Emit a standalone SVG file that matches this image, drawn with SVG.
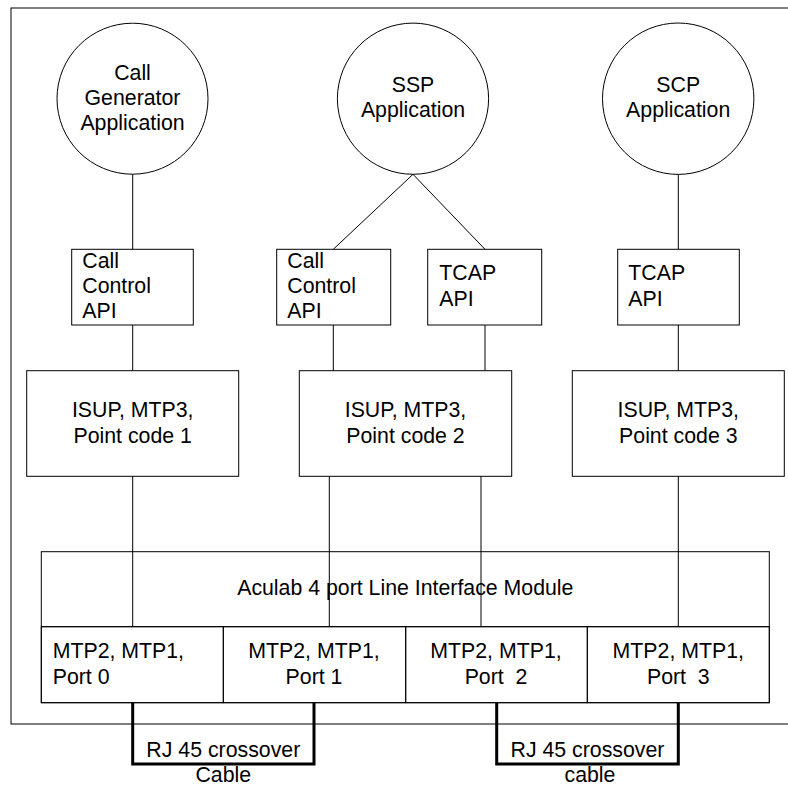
<svg xmlns="http://www.w3.org/2000/svg" width="788" height="787" viewBox="0 0 788 787">
<style>
.s{fill:none;stroke:#000;stroke-width:1}
.n{fill:#fff;stroke:#000;stroke-width:1}
.t{font-family:"Liberation Sans",Arial,sans-serif;font-size:21.3px;fill:#000}
.c{text-anchor:middle}
.k{fill:none;stroke:#000;stroke-width:3}
</style>
<rect id="frame" class="s" x="11" y="8" width="790" height="716"/>
<g id="callgen">
<circle class="n" cx="132.5" cy="98.7" r="75.5"/>
<text class="t c" x="132.5" y="80">Call</text>
<text class="t c" x="132.5" y="105">Generator</text>
<text class="t c" x="132.5" y="130">Application</text>
</g>
<g id="ssp">
<circle class="n" cx="413" cy="98.7" r="75.6"/>
<text class="t c" x="413" y="91.7">SSP</text>
<text class="t c" x="413" y="116.7">Application</text>
</g>
<g id="scp">
<circle class="n" cx="678.2" cy="98.7" r="75.7"/>
<text class="t c" x="678.2" y="91.7">SCP</text>
<text class="t c" x="678.2" y="116.7">Application</text>
</g>
<g id="cc1">
<rect class="n" x="71.7" y="249.3" width="121.6" height="75.7"/>
<text class="t" x="82.3" y="268.3">Call</text>
<text class="t" x="82.3" y="293.3">Control</text>
<text class="t" x="82.3" y="318.3">API</text>
</g>
<g id="cc2">
<rect class="n" x="276.7" y="249.3" width="114" height="75.7"/>
<text class="t" x="287.3" y="268.3">Call</text>
<text class="t" x="287.3" y="293.3">Control</text>
<text class="t" x="287.3" y="318.3">API</text>
</g>
<g id="tcap1">
<rect class="n" x="427.7" y="249.3" width="114" height="75.7"/>
<text class="t" x="439.3" y="280">TCAP</text>
<text class="t" x="439.3" y="306">API</text>
</g>
<g id="tcap2">
<rect class="n" x="617.7" y="249.3" width="121.6" height="75.7"/>
<text class="t" x="628.3" y="280">TCAP</text>
<text class="t" x="628.3" y="306">API</text>
</g>
<g id="isup1">
<rect class="n" x="26.7" y="370.7" width="212" height="105.6"/>
<text class="t c" x="132.7" y="417.3">ISUP, MTP3,</text>
<text class="t c" x="132.7" y="442.7">Point code 1</text>
</g>
<g id="isup2">
<rect class="n" x="299.3" y="370.7" width="212.4" height="105.6"/>
<text class="t c" x="405.5" y="417.3">ISUP, MTP3,</text>
<text class="t c" x="405.5" y="442.7">Point code 2</text>
</g>
<g id="isup3">
<rect class="n" x="572.3" y="370.7" width="212" height="105.6"/>
<text class="t c" x="678.3" y="417.3">ISUP, MTP3,</text>
<text class="t c" x="678.3" y="442.7">Point code 3</text>
</g>
<g id="lim">
<rect class="n" x="41.3" y="551.7" width="728" height="151"/>
<line class="s" x1="41.3" y1="626.7" x2="769.3" y2="626.7"/>
<text class="t c" x="405.3" y="595">Aculab 4 port Line Interface Module</text>
</g>
<g id="port0">
<rect class="s" x="41.3" y="626.7" width="182" height="76"/>
<text class="t" x="52.7" y="658.3">MTP2, MTP1,</text>
<text class="t" x="52.7" y="684">Port 0</text>
</g>
<g id="port1">
<rect class="s" x="223.3" y="626.7" width="182.4" height="76"/>
<text class="t c" x="314" y="658.3">MTP2, MTP1,</text>
<text class="t c" x="314" y="684">Port 1</text>
</g>
<g id="port2">
<rect class="s" x="405.7" y="626.7" width="181.6" height="76"/>
<text class="t c" x="496" y="658.3" xml:space="preserve">MTP2, MTP1,</text>
<text class="t c" x="496" y="684" xml:space="preserve">Port  2</text>
</g>
<g id="port3">
<rect class="s" x="587.3" y="626.7" width="182" height="76"/>
<text class="t c" x="678.3" y="658.3" xml:space="preserve">MTP2, MTP1,</text>
<text class="t c" x="678.3" y="684" xml:space="preserve">Port  3</text>
</g>
<g id="connectors">
<line class="s" x1="132.7" y1="174.2" x2="132.7" y2="249.3"/>
<line class="s" x1="413" y1="174.3" x2="333.3" y2="249.3"/>
<line class="s" x1="413" y1="174.3" x2="485" y2="249.3"/>
<line class="s" x1="678.3" y1="174.4" x2="678.3" y2="249.3"/>
<line class="s" x1="132.7" y1="325" x2="132.7" y2="370.7"/>
<line class="s" x1="333.3" y1="325" x2="333.3" y2="370.7"/>
<line class="s" x1="485" y1="325" x2="485" y2="370.7"/>
<line class="s" x1="678.3" y1="325" x2="678.3" y2="370.7"/>
<line class="s" x1="132.7" y1="476.3" x2="132.7" y2="626.7"/>
<line class="s" x1="329.3" y1="476.3" x2="329.3" y2="626.7"/>
<line class="s" x1="481" y1="476.3" x2="481" y2="626.7"/>
<line class="s" x1="678.3" y1="476.3" x2="678.3" y2="626.7"/>
<polyline class="k" points="132.7,702.7 132.7,764 314,764 314,702.7"/>
<polyline class="k" points="496.7,702.7 496.7,764 678.3,764 678.3,702.7"/>
</g>
<g id="cable1">
<text class="t c" x="223.3" y="756.7">RJ 45 crossover</text>
<text class="t c" x="223.3" y="781.7">Cable</text>
</g>
<g id="cable2">
<text class="t c" x="587.5" y="756.7">RJ 45 crossover</text>
<text class="t c" x="590" y="781.7">cable</text>
</g>
</svg>
